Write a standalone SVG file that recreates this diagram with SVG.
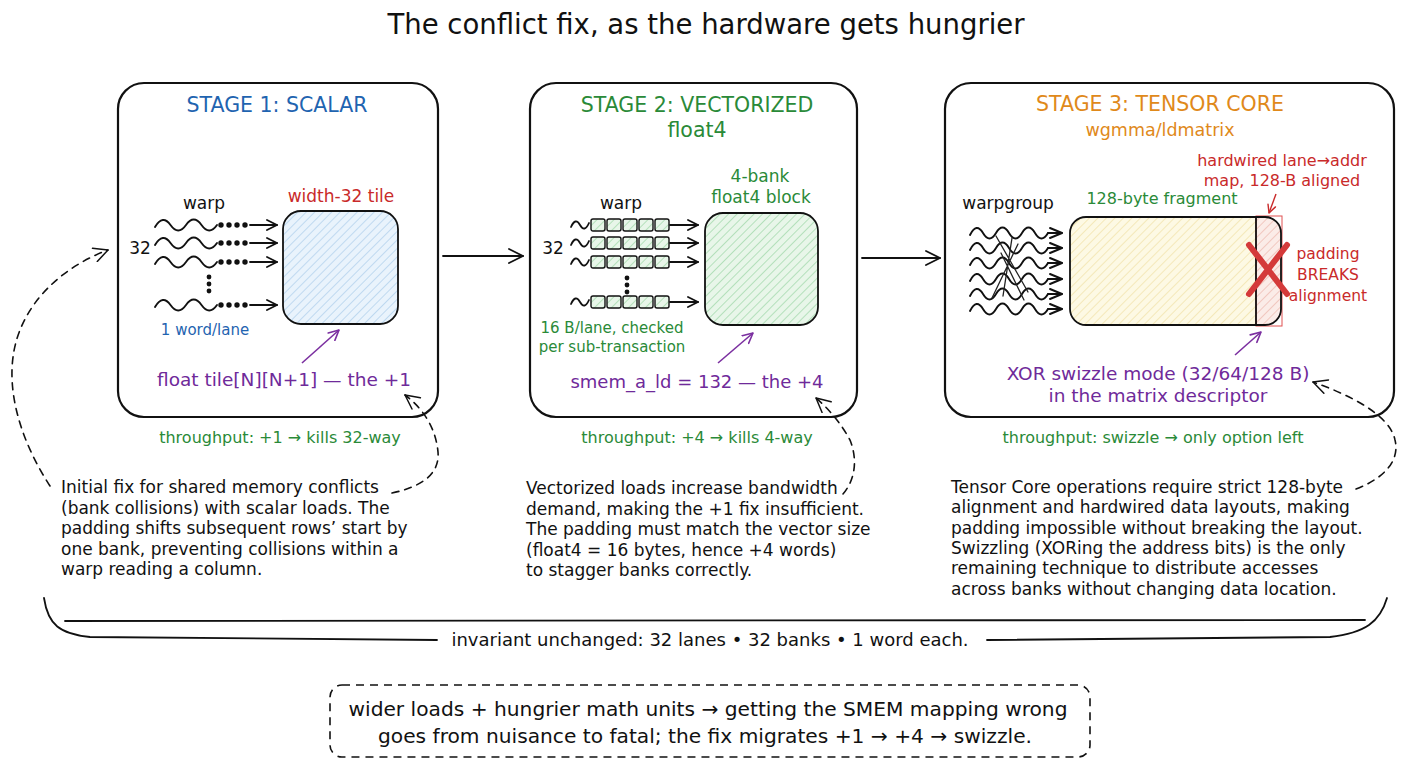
<svg xmlns="http://www.w3.org/2000/svg" width="1408" height="768" viewBox="0 0 1408 768">
<style>
text{font-family:"DejaVu Sans","Liberation Sans",sans-serif;}
.title{font-size:27.5px;fill:#111;}
.st{font-size:20.5px;}
.lbl{font-size:16px;}
.body{font-size:17px;fill:#111;}
.blue{fill:#1f64b0;}
.green{fill:#2a8a38;}
.red{fill:#c92a2a;}
.purple{fill:#6f2a9a;}
.orange{fill:#e0891a;}
.blk{fill:#111;}
.panel{fill:none;stroke:#111;stroke-width:2.2;}
.ln{fill:none;stroke:#111;stroke-width:1.8;stroke-linecap:round;stroke-linejoin:round;}
.dash{fill:none;stroke:#111;stroke-width:1.6;stroke-dasharray:7 6;stroke-linecap:round;}
.parr{fill:none;stroke:#7b2fa0;stroke-width:1.6;}
.dot{fill:#111;}
</style>
<defs>
<marker id="ah" viewBox="0 0 12 12" refX="11" refY="6" markerWidth="12" markerHeight="12" markerUnits="userSpaceOnUse" orient="auto">
<path d="M1,1 L11,6 L1,11" fill="none" stroke="#111" stroke-width="1.8" stroke-linecap="round" stroke-linejoin="round"/>
</marker>
<marker id="ah3" viewBox="0 0 14 12" refX="13" refY="6" markerWidth="14" markerHeight="12" markerUnits="userSpaceOnUse" orient="auto">
<path d="M1,1 L13,6 L1,11" fill="none" stroke="#111" stroke-width="1.9" stroke-linecap="round" stroke-linejoin="round"/>
</marker>
<marker id="ahL" viewBox="0 0 16 16" refX="15" refY="8" markerWidth="16" markerHeight="16" markerUnits="userSpaceOnUse" orient="auto">
<path d="M1,1 L15,8 L1,15" fill="none" stroke="#111" stroke-width="1.8" stroke-linecap="round" stroke-linejoin="round"/>
</marker>
<marker id="ahD" viewBox="0 0 16 16" refX="15" refY="8" markerWidth="16" markerHeight="16" markerUnits="userSpaceOnUse" orient="auto">
<path d="M1,1 L15,8 L1,15" fill="none" stroke="#111" stroke-width="1.5" stroke-linecap="round" stroke-linejoin="round"/>
</marker>
<marker id="ahP" viewBox="0 0 12 12" refX="11" refY="6" markerWidth="12" markerHeight="12" markerUnits="userSpaceOnUse" orient="auto">
<path d="M1,1 L11,6 L1,11" fill="none" stroke="#7b2fa0" stroke-width="1.6" stroke-linecap="round" stroke-linejoin="round"/>
</marker>
<marker id="ahR" viewBox="0 0 10 10" refX="9" refY="5" markerWidth="10" markerHeight="10" markerUnits="userSpaceOnUse" orient="auto">
<path d="M1,1 L9,5 L1,9" fill="none" stroke="#c92a2a" stroke-width="1.4" stroke-linecap="round" stroke-linejoin="round"/>
</marker>
<pattern id="hBlue" width="6" height="6" patternUnits="userSpaceOnUse" patternTransform="rotate(45)">
<rect width="6" height="6" fill="#e9f3fc"/><line x1="0" y1="0" x2="0" y2="6" stroke="#a9cbea" stroke-width="1.3"/>
</pattern>
<pattern id="hGreen" width="6" height="6" patternUnits="userSpaceOnUse" patternTransform="rotate(45)">
<rect width="6" height="6" fill="#e8f6e9"/><line x1="0" y1="0" x2="0" y2="6" stroke="#98d4a2" stroke-width="1.3"/>
</pattern>
<pattern id="hYellow" width="6" height="6" patternUnits="userSpaceOnUse" patternTransform="rotate(45)">
<rect width="6" height="6" fill="#fdf9e4"/><line x1="0" y1="0" x2="0" y2="6" stroke="#f0dfa2" stroke-width="1.3"/>
</pattern>
<pattern id="hRed" width="6" height="6" patternUnits="userSpaceOnUse" patternTransform="rotate(45)">
<rect width="6" height="6" fill="#fbece8"/><line x1="0" y1="0" x2="0" y2="6" stroke="#ecb5aa" stroke-width="1.3"/>
</pattern>
<path id="wave1" d="M0,2 Q7.75,-11 15.5,0 T31,0 T46.5,0 T62,0" fill="none" stroke="#111" stroke-width="1.9" stroke-linecap="round"/>
<path id="tilde" d="M0,2 Q4.5,-8 9,0 T18,-2" fill="none" stroke="#111" stroke-width="1.8" stroke-linecap="round"/>
<path id="wave3" d="M0,2 Q6.5,-11 13,0 T26,0 T39,0 T52,0 T65,0 T78,0" fill="none" stroke="#111" stroke-width="1.9" stroke-linecap="round"/>
<g id="vecrow">
<use href="#tilde" x="-20" y="0"/>
<rect x="0" y="-6" width="14" height="12" rx="2" fill="url(#hGreen)" stroke="#111" stroke-width="1.4"/>
<rect x="16" y="-6" width="14" height="12" rx="2" fill="url(#hGreen)" stroke="#111" stroke-width="1.4"/>
<rect x="32" y="-6" width="14" height="12" rx="2" fill="url(#hGreen)" stroke="#111" stroke-width="1.4"/>
<rect x="48" y="-6" width="14" height="12" rx="2" fill="url(#hGreen)" stroke="#111" stroke-width="1.4"/>
<rect x="64" y="-6" width="14" height="12" rx="2" fill="url(#hGreen)" stroke="#111" stroke-width="1.4"/>
<line x1="79" y1="0" x2="107" y2="0" class="ln" marker-end="url(#ah)"/>
</g>
<g id="scalrow">
<use href="#wave1"/>
<circle cx="66" cy="0" r="2.7" class="dot"/>
<circle cx="74" cy="0" r="2.7" class="dot"/>
<circle cx="82" cy="0" r="2.7" class="dot"/>
<circle cx="90" cy="0" r="2.7" class="dot"/>
<line x1="95" y1="0" x2="122" y2="0" class="ln" marker-end="url(#ah)"/>
</g>
<clipPath id="fragClip"><rect x="1070" y="217" width="211" height="108" rx="16"/></clipPath>
</defs>

<rect width="1408" height="768" fill="#ffffff"/>

<g id="title">
<text x="706" y="34" text-anchor="middle" class="title">The conflict fix, as the hardware gets hungrier</text>
</g>

<g id="stage1">
<rect x="118" y="83" width="320" height="334" rx="26" class="panel"/>
<text x="277" y="112" text-anchor="middle" class="st blue">STAGE 1: SCALAR</text>
<text x="341" y="202" text-anchor="middle" class="blue red" style="font-size:17px">width-32 tile</text>
<text x="204" y="209" text-anchor="middle" class="blk" style="font-size:17px">warp</text>
<text x="140" y="254" text-anchor="middle" class="blk" style="font-size:17px">32</text>
<use href="#scalrow" x="155" y="225"/>
<use href="#scalrow" x="155" y="243"/>
<use href="#scalrow" x="155" y="262"/>
<use href="#scalrow" x="155" y="305"/>
<circle cx="209" cy="277" r="2.4" class="dot"/>
<circle cx="209" cy="284" r="2.4" class="dot"/>
<circle cx="209" cy="291" r="2.4" class="dot"/>
<rect x="283" y="211" width="115" height="113" rx="18" fill="url(#hBlue)" stroke="#111" stroke-width="1.8"/>
<text x="205" y="335" text-anchor="middle" class="blue" style="font-size:15px">1 word/lane</text>
<line x1="302" y1="363" x2="339" y2="330" class="parr" marker-end="url(#ahP)"/>
<text x="284" y="386" text-anchor="middle" class="purple" style="font-size:18.5px">float tile[N][N+1] — the +1</text>
</g>

<g id="stage2">
<rect x="530" y="83" width="327" height="334" rx="26" class="panel"/>
<text x="697" y="112" text-anchor="middle" class="st green">STAGE 2: VECTORIZED</text>
<text x="697" y="137" text-anchor="middle" class="st green">float4</text>
<text x="760" y="182" text-anchor="middle" class="green" style="font-size:17px">4-bank</text>
<text x="761" y="203" text-anchor="middle" class="green" style="font-size:17px">float4 block</text>
<text x="621" y="209" text-anchor="middle" class="blk" style="font-size:17px">warp</text>
<text x="553" y="254" text-anchor="middle" class="blk" style="font-size:17px">32</text>
<use href="#vecrow" x="591" y="225"/>
<use href="#vecrow" x="591" y="243"/>
<use href="#vecrow" x="591" y="262"/>
<use href="#vecrow" x="591" y="302"/>
<circle cx="627" cy="278" r="2.4" class="dot"/>
<circle cx="627" cy="285" r="2.4" class="dot"/>
<circle cx="627" cy="292" r="2.4" class="dot"/>
<rect x="705" y="213" width="113" height="112" rx="18" fill="url(#hGreen)" stroke="#111" stroke-width="1.8"/>
<text x="612" y="333" text-anchor="middle" class="green" style="font-size:15px">16 B/lane, checked</text>
<text x="612" y="352" text-anchor="middle" class="green" style="font-size:15px">per sub-transaction</text>
<line x1="718" y1="363" x2="753" y2="333" class="parr" marker-end="url(#ahP)"/>
<text x="697" y="388" text-anchor="middle" class="purple" style="font-size:18px">smem_a_ld = 132 — the +4</text>
</g>

<g id="stage3">
<rect x="945" y="83" width="449" height="334" rx="26" class="panel"/>
<text x="1160" y="111" text-anchor="middle" class="st orange">STAGE 3: TENSOR CORE</text>
<text x="1160" y="136" text-anchor="middle" class="orange" style="font-size:17.5px">wgmma/ldmatrix</text>
<text x="1282" y="166" text-anchor="middle" class="lbl red">hardwired lane→addr</text>
<text x="1282" y="186" text-anchor="middle" class="lbl red">map, 128-B aligned</text>
<line x1="1276" y1="194" x2="1269" y2="213" stroke="#c92a2a" stroke-width="1.4" marker-end="url(#ahR)"/>
<text x="1008" y="209" text-anchor="middle" class="blk" style="font-size:17px">warpgroup</text>
<text x="1162" y="204" text-anchor="middle" class="lbl green">128-byte fragment</text>
<use href="#wave3" x="970" y="233"/>
<use href="#wave3" x="970" y="248"/>
<use href="#wave3" x="970" y="263"/>
<use href="#wave3" x="970" y="279"/>
<use href="#wave3" x="970" y="294"/>
<use href="#wave3" x="970" y="309"/>
<line x1="1048" y1="233" x2="1062" y2="233" class="ln" marker-end="url(#ah3)"/>
<line x1="1048" y1="248" x2="1062" y2="248" class="ln" marker-end="url(#ah3)"/>
<line x1="1048" y1="263" x2="1062" y2="263" class="ln" marker-end="url(#ah3)"/>
<line x1="1048" y1="279" x2="1062" y2="279" class="ln" marker-end="url(#ah3)"/>
<line x1="1048" y1="294" x2="1062" y2="294" class="ln" marker-end="url(#ah3)"/>
<line x1="1048" y1="309" x2="1062" y2="309" class="ln" marker-end="url(#ah3)"/>
<path d="M996,236 L1028,292 M1018,244 L992,298 M1001,253 L1024,300 M1012,238 L1003,296" fill="none" stroke="#222" stroke-width="1.3" stroke-linecap="round"/>
<rect x="1070" y="217" width="211" height="108" fill="url(#hYellow)" clip-path="url(#fragClip)"/>
<rect x="1256" y="216" width="26" height="110" fill="url(#hRed)" clip-path="url(#fragClip)"/>
<rect x="1256" y="216" width="26" height="110" fill="none" stroke="#e05050" stroke-width="1"/>
<rect x="1070" y="217" width="211" height="108" rx="16" fill="none" stroke="#111" stroke-width="1.8"/>
<line x1="1256" y1="217" x2="1256" y2="325" stroke="#111" stroke-width="1.8"/>
<path d="M1249,245 L1287,294 M1287,245 L1249,294" stroke="#d43a3a" stroke-width="6" stroke-linecap="round" fill="none"/>
<text x="1328" y="259" text-anchor="middle" class="red" style="font-size:15.5px">padding</text>
<text x="1328" y="280" text-anchor="middle" class="red" style="font-size:15.5px">BREAKS</text>
<text x="1328" y="301" text-anchor="middle" class="red" style="font-size:15.5px">alignment</text>
<line x1="1235" y1="355" x2="1261" y2="332" class="parr" marker-end="url(#ahP)"/>
<text x="1158" y="380" text-anchor="middle" class="purple" style="font-size:18.5px">XOR swizzle mode (32/64/128 B)</text>
<text x="1158" y="402" text-anchor="middle" class="purple" style="font-size:18.5px">in the matrix descriptor</text>
</g>

<g id="throughput">
<text x="280" y="443" text-anchor="middle" class="lbl green">throughput: +1 → kills 32-way</text>
<text x="697" y="443" text-anchor="middle" class="lbl green">throughput: +4 → kills 4-way</text>
<text x="1153" y="443" text-anchor="middle" class="lbl green">throughput: swizzle → only option left</text>
</g>

<g id="note1">
<text class="body">
<tspan x="61" y="493">Initial fix for shared memory conflicts</tspan>
<tspan x="61" y="514">(bank collisions) with scalar loads. The</tspan>
<tspan x="61" y="534">padding shifts subsequent rows’ start by</tspan>
<tspan x="61" y="555">one bank, preventing collisions within a</tspan>
<tspan x="61" y="575">warp reading a column.</tspan>
</text>
</g>

<g id="note2">
<text class="body">
<tspan x="526" y="494">Vectorized loads increase bandwidth</tspan>
<tspan x="526" y="515">demand, making the +1 fix insufficient.</tspan>
<tspan x="526" y="535">The padding must match the vector size</tspan>
<tspan x="526" y="556">(float4 = 16 bytes, hence +4 words)</tspan>
<tspan x="526" y="576">to stagger banks correctly.</tspan>
</text>
</g>

<g id="note3">
<text class="body">
<tspan x="951" y="493">Tensor Core operations require strict 128-byte</tspan>
<tspan x="951" y="513">alignment and hardwired data layouts, making</tspan>
<tspan x="951" y="534">padding impossible without breaking the layout.</tspan>
<tspan x="951" y="554">Swizzling (XORing the address bits) is the only</tspan>
<tspan x="951" y="574">remaining technique to distribute accesses</tspan>
<tspan x="951" y="595">across banks without changing data location.</tspan>
</text>
</g>

<g id="invariant">
<path d="M65,621 L1365,620" class="ln"/>
<path d="M44,598 C48,625 60,634 90,637 L437,640" class="ln"/>
<path d="M987,640 L1330,637 C1365,633 1380,622 1387,598" class="ln"/>
<text x="710" y="646" text-anchor="middle" class="blk" style="font-size:18px">invariant unchanged: 32 lanes • 32 banks • 1 word each.</text>
</g>

<g id="summary">
<rect x="330" y="685" width="760" height="72" rx="12" fill="none" stroke="#111" stroke-width="1.6" stroke-dasharray="8 6"/>
<text x="708" y="716" text-anchor="middle" class="blk" style="font-size:20.2px">wider loads + hungrier math units → getting the SMEM mapping wrong</text>
<text x="705" y="743" text-anchor="middle" class="blk" style="font-size:20.2px">goes from nuisance to fatal; the fix migrates +1 → +4 → swizzle.</text>
</g>

<g id="connectors">
<line x1="443" y1="256" x2="523" y2="256" class="ln" marker-end="url(#ahL)"/>
<line x1="862" y1="258" x2="940" y2="258" class="ln" marker-end="url(#ahL)"/>
<path d="M50,486 C20,440 0,380 20,330 C35,292 70,264 108,250" class="dash" marker-end="url(#ahD)"/>
<path d="M392,493 C420,487 440,475 438,452 C436,430 425,410 405,395" class="dash" marker-end="url(#ahD)"/>
<path d="M843,494 C855,480 858,460 850,440 C842,425 830,410 816,398" class="dash" marker-end="url(#ahD)"/>
<path d="M1356,489 C1385,478 1400,460 1395,440 C1390,415 1350,395 1313,382" class="dash" marker-end="url(#ahD)"/>
</g>
</svg>
